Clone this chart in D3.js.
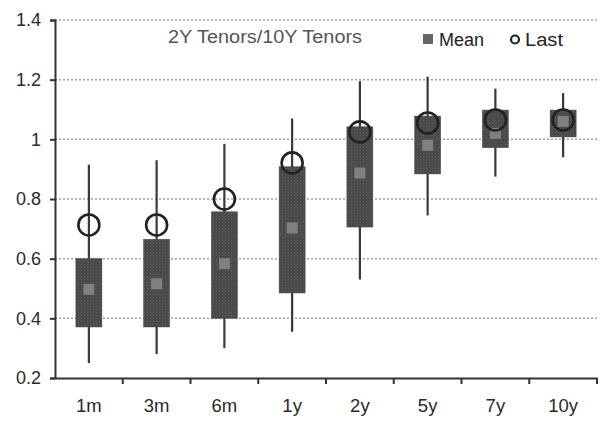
<!DOCTYPE html>
<html><head><meta charset="utf-8">
<script src="https://cdn.jsdelivr.net/npm/d3@7/dist/d3.min.js"></script>
<style>body{margin:0;background:#fff}svg{display:block;font-family:"Liberation Sans",Arial,sans-serif}</style>
</head><body><svg id="c" width="605" height="425"></svg>
<script>
const categories = ["1m","3m","6m","1y","2y","5y","7y","10y"];
const whiskerHigh = [0.915,0.93,0.985,1.07,1.195,1.21,1.17,1.155];
const whiskerLow  = [0.25,0.28,0.30,0.355,0.53,0.745,0.875,0.94];
const boxHigh     = [0.60,0.665,0.757,0.908,1.042,1.078,1.098,1.098];
const boxLow      = [0.371,0.371,0.40,0.485,0.706,0.884,0.972,1.008];
const meanVals    = [0.497,0.516,0.583,0.703,0.887,0.98,1.02,1.06];
const lastVals    = [0.713,0.713,0.80,0.921,1.025,1.055,1.065,1.065];
const yTicks      = [0.2,0.4,0.6,0.8,1,1.2,1.4];

const svg = d3.select("#c");
const defs = svg.append("defs");
const pat = defs.append("pattern").attr("id","tex").attr("patternUnits","userSpaceOnUse")
  .attr("width",3).attr("height",3);
pat.append("rect").attr("width",3).attr("height",3).attr("fill","#4a4a4a");
pat.append("rect").attr("width",1).attr("height",1).attr("fill","#5e5e5e");

const x = d3.scaleBand().domain(categories).range([55,597]);
const y = d3.scaleLinear().domain([0.2,1.4]).range([378,20]);
const cx = c => x(c) + x.bandwidth()/2;

// gridlines
svg.append("g").selectAll("line").data(yTicks.filter(t=>t>0.2)).join("line")
  .attr("x1",55).attr("x2",597).attr("y1",d=>y(d)).attr("y2",d=>y(d))
  .attr("stroke","#a0a0a0").attr("stroke-width",1.5).attr("stroke-dasharray","2,2");

// y axis
const ya = svg.append("g").attr("transform","translate(55,0)")
  .call(d3.axisLeft(y).tickValues(yTicks).tickSize(5).tickPadding(9).tickFormat(d3.format("")));
ya.select(".domain").attr("stroke","#333").attr("stroke-width",2);
ya.selectAll(".tick line").attr("stroke","#333").attr("stroke-width",2);
ya.selectAll("text").attr("font-size",18).attr("fill","#2a2a2a").attr("font-family","Liberation Sans, Arial, sans-serif");

// x axis
const xa = svg.append("g").attr("transform","translate(0,378)")
  .call(d3.axisBottom(x).tickSize(0).tickPadding(21));
xa.select(".domain").attr("stroke","#333").attr("stroke-width",2);
xa.selectAll("text").attr("font-size",18.5).attr("fill","#2a2a2a").attr("font-family","Liberation Sans, Arial, sans-serif");
svg.append("g").selectAll("line").data(categories.slice(1).concat(["__end"])).join("line")
  .attr("x1",(d,i)=> i<categories.length-1 ? x(d) : 597).attr("x2",(d,i)=> i<categories.length-1 ? x(d) : 597)
  .attr("y1",378).attr("y2",384).attr("stroke","#333").attr("stroke-width",2);

// whiskers
const g = svg.append("g");
g.selectAll("line.w").data(categories).join("line").attr("class","w")
  .attr("x1",d=>cx(d)).attr("x2",d=>cx(d))
  .attr("y1",(d,i)=>y(whiskerHigh[i])).attr("y2",(d,i)=>y(whiskerLow[i]))
  .attr("stroke","#3a3a3a").attr("stroke-width",2.2);

// boxes
const bw = 26;
g.selectAll("rect.b").data(categories).join("rect").attr("class","b")
  .attr("x",d=>cx(d)-bw/2).attr("width",bw)
  .attr("y",(d,i)=>y(boxHigh[i])).attr("height",(d,i)=>y(boxLow[i])-y(boxHigh[i]))
  .attr("fill","url(#tex)").attr("stroke","#444").attr("stroke-width",0.5);

// mean markers
const ms = 11;
g.selectAll("rect.m").data(categories).join("rect").attr("class","m")
  .attr("x",d=>cx(d)-ms/2).attr("width",ms)
  .attr("y",(d,i)=>y(meanVals[i])-ms/2).attr("height",ms)
  .attr("fill","#808080");

// last circles
g.selectAll("circle").data(categories).join("circle")
  .attr("cx",d=>cx(d)).attr("cy",(d,i)=>y(lastVals[i])).attr("r",10.5)
  .attr("fill","none").attr("stroke","#222").attr("stroke-width",2.6);

// title & legend
svg.append("text").attr("x",168).attr("y",43).attr("font-size",18).attr("fill","#555")
  .attr("textLength",194).attr("lengthAdjust","spacingAndGlyphs")
  .text("2Y Tenors/10Y Tenors");
svg.append("rect").attr("x",423).attr("y",34).attr("width",10).attr("height",10).attr("fill","#666");
svg.append("text").attr("x",439).attr("y",46).attr("font-size",18).attr("fill","#222").text("Mean");
svg.append("circle").attr("cx",515).attr("cy",39.5).attr("r",4).attr("fill","none").attr("stroke","#222").attr("stroke-width",2.2);
svg.append("text").attr("x",525).attr("y",46).attr("font-size",18).attr("fill","#222")
  .attr("textLength",38).attr("lengthAdjust","spacingAndGlyphs").text("Last");
</script></body></html>
